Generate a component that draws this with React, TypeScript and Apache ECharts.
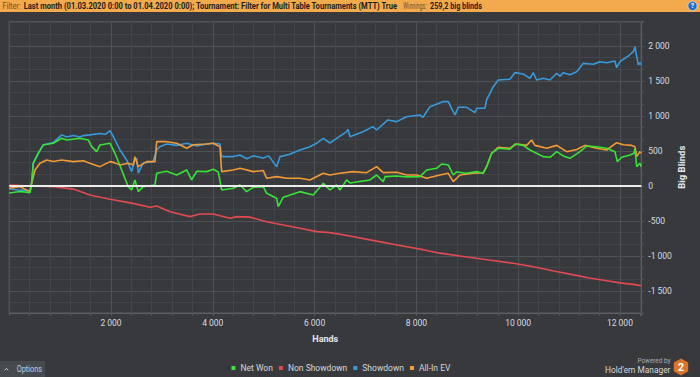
import React, { useEffect, useRef } from 'react';
import * as echarts from 'echarts';

// ---------- DATA (hands, big blinds) ----------
const seriesNames = ['Net Won', 'Non Showdown', 'Showdown', 'All-In EV'];

const netWon: [number, number][] = [
  [0, -100], [212, -80], [409, -95], [442, 62], [473, 324], [572, 467], [670, 586], [866, 610],
  [1031, 681], [1130, 657], [1391, 681], [1554, 657], [1621, 562], [1719, 490], [1784, 586],
  [1981, 610], [2079, 467], [2210, 229], [2340, -10], [2407, -57], [2471, 86], [2536, -81],
  [2634, -10], [2864, 14], [2898, 181], [3094, 210], [3291, 157], [3487, 229], [3585, 86],
  [3684, 210], [3880, 205], [4010, 238], [4108, 200], [4175, -57], [4403, -33], [4535, 14],
  [4666, -81], [4796, -20], [4992, -10], [5059, -105], [5255, -176], [5287, -295], [5385, -160],
  [5713, -81], [5974, -129], [6171, 38], [6302, -57], [6434, 14], [6499, -57], [6630, 86],
  [6695, 43], [7088, 86], [7220, 157], [7350, 60], [7383, 133], [7613, 143], [7809, 130],
  [8071, 133], [8203, 229], [8399, 252], [8497, 314], [8627, 300], [8725, 157], [8792, 200],
  [8988, 181], [9185, 205], [9314, 181], [9381, 276], [9479, 467], [9609, 538], [9839, 524],
  [9937, 600], [10100, 580], [10232, 514], [10494, 419], [10626, 410], [10757, 490], [10888, 430],
  [11019, 395], [11215, 490], [11347, 571], [11544, 560], [11740, 540], [11902, 490], [11948, 347],
  [12035, 410], [12198, 443], [12277, 467], [12296, 538], [12330, 276], [12394, 324], [12420, 276],
];

const nonShowdown: [number, number][] = [
  [0, 14], [409, 0], [866, -10], [1259, -45], [1587, -130], [1981, -190], [2407, -245],
  [2766, -305], [2898, -286], [3159, -367], [3552, -438], [3748, -400], [4010, -400],
  [4338, -462], [4470, -438], [4731, -445], [5059, -510], [5385, -557], [5713, -605],
  [6041, -652], [6302, -667], [6695, -715], [7088, -770], [7678, -850], [8130, -910],
  [8464, -960], [8990, -1015], [9500, -1065], [9900, -1105], [10300, -1155], [10700, -1215],
  [11019, -1260], [11400, -1315], [11740, -1355], [12001, -1385], [12300, -1410], [12420, -1425],
];

const showdown: [number, number][] = [
  [0, -40], [212, -60], [409, -70], [442, 50], [473, 330], [572, 470], [670, 590], [866, 620],
  [1031, 730], [1130, 700], [1259, 720], [1391, 700], [1456, 720], [1587, 730], [1784, 750],
  [1900, 740], [1981, 790], [2079, 657], [2177, 514], [2308, 371], [2407, 205], [2471, 380],
  [2505, 395], [2536, 185], [2634, 328], [2825, 347], [2898, 514], [2960, 562], [3094, 600],
  [3291, 580], [3487, 610], [3684, 570], [3880, 600], [4010, 610], [4141, 600], [4175, 419],
  [4403, 420], [4535, 443], [4666, 390], [4796, 430], [4992, 400], [5100, 430], [5255, 276],
  [5320, 419], [5500, 450], [5713, 514], [5910, 560], [6041, 610], [6171, 681], [6302, 614],
  [6434, 681], [6630, 776], [6656, 810], [6695, 705], [6951, 776], [7147, 848], [7220, 800],
  [7442, 943], [7613, 919], [7809, 990], [8071, 1014], [8130, 981], [8268, 1133], [8522, 1205],
  [8627, 1205], [8758, 1014], [8824, 1124], [8988, 1124], [9152, 1048], [9185, 1110], [9348, 1110],
  [9381, 1229], [9511, 1419], [9609, 1514], [9839, 1524], [9937, 1619], [10100, 1600],
  [10232, 1538], [10297, 1619], [10364, 1514], [10494, 1540], [10626, 1514], [10757, 1610],
  [10822, 1570], [10888, 1619], [11019, 1590], [11150, 1633], [11281, 1752], [11479, 1740],
  [11609, 1776], [11740, 1760], [11902, 1786], [11936, 1690], [12001, 1776], [12165, 1857],
  [12263, 1919], [12296, 1990], [12330, 1848], [12361, 1729], [12394, 1762], [12420, 1729],
];

const allInEV: [number, number][] = [
  [0, -33], [212, -10], [409, -81], [442, 38], [507, 229], [605, 324], [737, 371], [866, 350],
  [1031, 371], [1259, 348], [1456, 360], [1587, 324], [1784, 276], [1981, 348], [2079, 330],
  [2177, 300], [2340, 324], [2438, 300], [2471, 419], [2536, 276], [2701, 348], [2864, 348],
  [2898, 633], [3094, 633], [3291, 610], [3487, 538], [3617, 590], [3880, 600], [4010, 610],
  [4141, 560], [4175, 205], [4403, 229], [4535, 252], [4796, 205], [4992, 220], [5059, 110],
  [5255, 133], [5452, 110], [5713, 110], [5910, 86], [6171, 181], [6302, 157], [6499, 181],
  [6760, 205], [7023, 190], [7220, 276], [7350, 190], [7613, 195], [7809, 157], [8006, 157],
  [8203, 110], [8464, 157], [8627, 181], [8725, 62], [8857, 157], [9118, 181], [9314, 190],
  [9381, 276], [9479, 467], [9609, 552], [9839, 540], [9971, 600], [10167, 580], [10265, 657],
  [10330, 580], [10561, 538], [10757, 580], [10954, 490], [11150, 520], [11314, 580],
  [11544, 540], [11740, 514], [11936, 619], [12066, 590], [12231, 580], [12296, 560],
  [12330, 419], [12394, 490], [12420, 470],
];

const xTickStep = 2000;
const yTickStep = 500;

const filterLabel = 'Filter:';
const filterText =
  'Last month (01.03.2020 0:00 to 01.04.2020 0:00); Tournament: Filter for Multi Table Tournaments (MTT) True';
const winningsLabel = 'Winnings:';
const winningsText = '259,2 big blinds';

// ---------- helpers ----------
const fmt = (v: number) => {
  const s = Math.round(Math.abs(v)).toString().replace(/\B(?=(\d{3})+(?!\d))/g, ' ');
  return (v < 0 ? '-' : '') + s;
};

let measureCtx: CanvasRenderingContext2D | null = null;
function fitScale(text: string, font: string, width: number) {
  if (!measureCtx) measureCtx = document.createElement('canvas').getContext('2d');
  if (!measureCtx) return 1;
  measureCtx.font = font;
  const w = measureCtx.measureText(text).width;
  return w > 0 ? width / w : 1;
}

const COLORS = {
  net: '#36e436',
  non: '#e34a4f',
  sd: '#3899dc',
  ev: '#f29a34',
};

function fitText(text: string, x: number, y: number, width: number, font: string, fill: string) {
  return {
    type: 'text',
    x,
    y,
    scaleX: fitScale(text, font, width),
    silent: true,
    style: { text, font, fill, textVerticalAlign: 'middle', textAlign: 'left' },
  };
}

export default function App() {
  const ref = useRef<HTMLDivElement>(null);

  useEffect(() => {
    if (!ref.current) return;
    const chart = echarts.init(ref.current, null, { renderer: 'svg' });

    const lightFont = '9px Roboto';
    const boldFont = 'bold 9px Roboto';

    const option: any = {
      animation: false,
      backgroundColor: '#37393d',
      grid: {
        left: 9.2,
        right: 58.7,
        top: 21.5,
        bottom: 64,
        show: true,
        borderColor: '#585c61',
        borderWidth: 1,
        backgroundColor: 'transparent',
        containLabel: false,
        outerBoundsMode: 'none',
      },
      legend: {
        data: seriesNames,
        left: 231.5,
        top: 363,
        padding: 0,
        icon: 'rect',
        itemWidth: 4,
        itemHeight: 4,
        itemGap: 6,
        selectedMode: false,
        textStyle: { color: '#d3d8df', fontSize: 8.5, fontFamily: 'Roboto', lineHeight: 10 },
      },
      xAxis: {
        type: 'value',
        min: 0,
        max: 12420,
        interval: xTickStep,
        name: 'Hands',
        nameLocation: 'middle',
        nameGap: 21,
        nameMoveOverlap: false,
        nameTextStyle: { color: '#e4e8ee', fontSize: 9, fontWeight: 'bold', fontFamily: 'Roboto' },
        axisLine: { show: true, onZero: false, lineStyle: { color: '#5c6065' } },
        axisTick: { show: true, length: 3, lineStyle: { color: '#54585d' } },
        minorTick: { show: true, splitNumber: 5, length: 3, lineStyle: { color: '#54585d' } },
        splitLine: { show: true, lineStyle: { color: '#4e5257', width: 1 } },
        minorSplitLine: { show: true, lineStyle: { color: '#424549', width: 1 } },
        axisLabel: {
          margin: 5,
          color: '#d6dbe2',
          fontSize: 8.5,
          fontFamily: 'Roboto',
          formatter: (v: number) => (v !== 0 && v % xTickStep === 0 ? fmt(v) : ''),
        },
      },
      yAxis: {
        type: 'value',
        position: 'right',
        min: -1815,
        max: 2350,
        splitNumber: 8,
        minInterval: yTickStep,
        maxInterval: yTickStep,
        name: 'Big Blinds',
        nameLocation: 'middle',
        nameGap: 35,
        nameMoveOverlap: false,
        nameRotate: 90,
        nameTextStyle: { color: '#e4e8ee', fontSize: 9.5, fontWeight: 'bold', fontFamily: 'Roboto' },
        axisLine: { show: true, onZero: false, lineStyle: { color: '#5c6065' } },
        axisTick: { show: true, length: 3, lineStyle: { color: '#54585d' } },
        minorTick: { show: true, splitNumber: 3, length: 2, lineStyle: { color: '#54585d' } },
        splitLine: { show: true, lineStyle: { color: '#4e5257', width: 1 } },
        minorSplitLine: { show: true, lineStyle: { color: '#424549', width: 1 } },
        axisLabel: {
          margin: 7,
          color: '#d6dbe2',
          fontSize: 8.5,
          fontFamily: 'Roboto',
          formatter: (v: number) => (Math.abs(v % yTickStep) < 1e-6 ? fmt(v) : ''),
        },
      },
      series: [
        {
          name: 'Non Showdown',
          type: 'line',
          data: nonShowdown,
          symbol: 'none',
          lineStyle: { width: 1.6, color: COLORS.non },
          itemStyle: { color: COLORS.non },
          z: 2,
        },
        {
          name: 'Showdown',
          type: 'line',
          data: showdown,
          symbol: 'none',
          lineStyle: { width: 1.6, color: COLORS.sd },
          itemStyle: { color: COLORS.sd },
          z: 3,
        },
        {
          name: 'All-In EV',
          type: 'line',
          data: allInEV,
          symbol: 'none',
          lineStyle: { width: 1.6, color: COLORS.ev },
          itemStyle: { color: COLORS.ev },
          z: 4,
        },
        {
          name: 'Net Won',
          type: 'line',
          data: netWon,
          symbol: 'none',
          lineStyle: { width: 1.6, color: COLORS.net },
          itemStyle: { color: COLORS.net },
          z: 5,
          markLine: {
            silent: true,
            symbol: ['none', 'none'],
            label: { show: false },
            lineStyle: { color: '#ececec', width: 2.2, type: 'solid' },
            data: [{ yAxis: 0 }],
            z: 6,
          },
        },
      ],
      graphic: [
        // top filter bar
        {
          type: 'rect',
          shape: { x: 0, y: 0, width: 700, height: 12 },
          style: { fill: '#f2aa4c' },
          silent: true,
        },
        fitText(filterLabel, 2.5, 6, 18, lightFont, '#66522f'),
        fitText(filterText, 23.7, 6, 374.6, boldFont, '#1d1d1d'),
        fitText(winningsLabel, 403.3, 6, 23.4, lightFont, '#66522f'),
        fitText(winningsText, 430, 6, 52, boldFont, '#1d1d1d'),
        {
          type: 'circle',
          shape: { cx: 692.5, cy: 5.9, r: 4.6 },
          style: { fill: '#2369c4', stroke: '#cfe0f4', lineWidth: 0.8 },
          silent: true,
        },
        {
          type: 'text',
          x: 692.5,
          y: 6.2,
          silent: true,
          style: { text: '?', font: 'bold 7px Roboto', fill: '#ffffff', textAlign: 'center', textVerticalAlign: 'middle' },
        },
        // options button
        {
          type: 'rect',
          shape: { x: 0, y: 361, width: 45, height: 16 },
          style: { fill: '#46494d' },
          silent: true,
        },
        {
          type: 'polyline',
          shape: { points: [[4.6, 370.3], [6.4, 368.4], [8.2, 370.3]] },
          style: { stroke: '#c9d1dc', lineWidth: 1, fill: 'none' },
          silent: true,
        },
        fitText('Options', 16.7, 369.6, 25.3, '8.5px Roboto', '#c6d0de'),
        // powered by
        fitText('Powered by', 637.5, 360.8, 33, '7px Roboto', '#a8aeb6'),
        fitText("Hold'em Manager", 605, 369.4, 65.5, '9px Roboto', '#d3d8de'),
        {
          type: 'polygon',
          shape: {
            points: [
              [681, 358.4], [688.2, 362.6], [688.2, 371.2], [681, 375.4], [673.8, 371.2], [673.8, 362.6],
            ],
          },
          style: { fill: '#dc7429' },
          silent: true,
        },
        {
          type: 'text',
          x: 681,
          y: 367.2,
          silent: true,
          style: { text: '2', font: 'bold 11px Roboto', fill: '#ffffff', textAlign: 'center', textVerticalAlign: 'middle' },
        },
      ],
    };

    chart.setOption(option);
    return () => chart.dispose();
  }, []);

  return (
    <div
      ref={ref}
      style={{ position: 'fixed', left: 0, top: 0, width: 700, height: 377, background: '#37393d' }}
    />
  );
}
